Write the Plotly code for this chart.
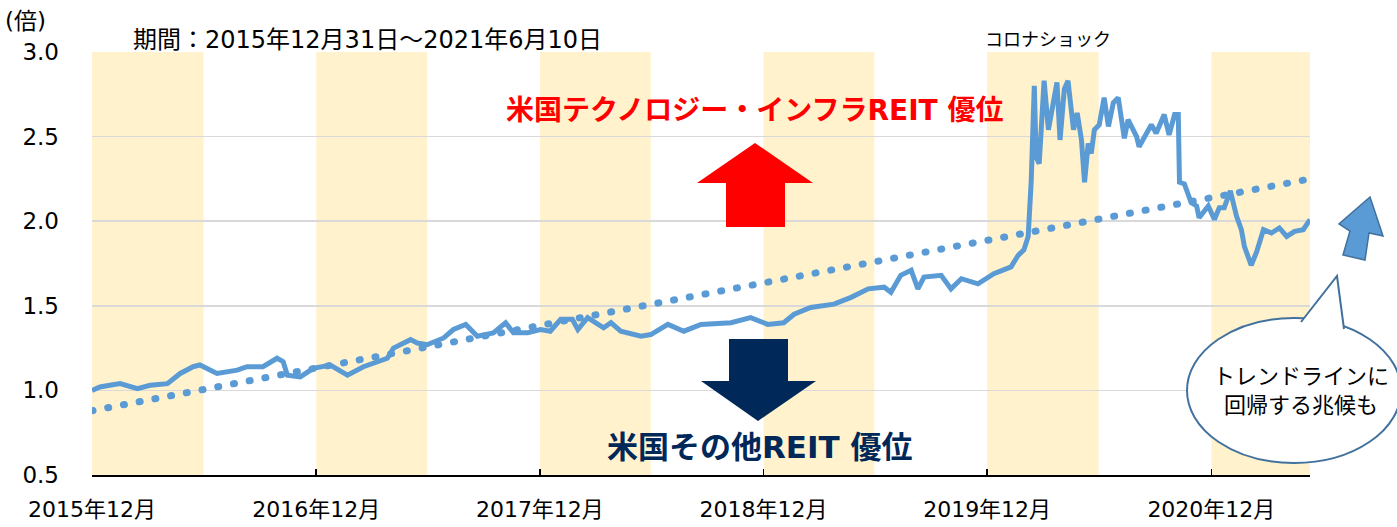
import plotly.graph_objects as go

# ---------------- data ----------------
dates = [
    "2015-12-31", "2016-01-13", "2016-01-29", "2016-02-15", "2016-03-14", "2016-04-04",
    "2016-05-02", "2016-05-23", "2016-06-13", "2016-06-24", "2016-07-22", "2016-08-24",
    "2016-09-09", "2016-10-05", "2016-10-28", "2016-11-07", "2016-11-14", "2016-12-05",
    "2016-12-26", "2017-01-23", "2017-02-20", "2017-03-18", "2017-04-26", "2017-05-06",
    "2017-06-03", "2017-06-14", "2017-06-30", "2017-07-27", "2017-08-12", "2017-09-01",
    "2017-09-20", "2017-10-16", "2017-11-05", "2017-11-18", "2017-12-11", "2018-01-01",
    "2018-01-17", "2018-02-03", "2018-02-22", "2018-03-03", "2018-03-19", "2018-04-14",
    "2018-04-26", "2018-05-12", "2018-06-14", "2018-06-30", "2018-07-28", "2018-08-23",
    "2018-09-20", "2018-10-22", "2018-11-08", "2018-12-10", "2019-01-07", "2019-02-02",
    "2019-02-19", "2019-03-18", "2019-04-25", "2019-05-23", "2019-06-20", "2019-07-16",
    "2019-07-27", "2019-08-12", "2019-08-29", "2019-09-09", "2019-09-19", "2019-10-17",
    "2019-11-02", "2019-11-19", "2019-12-16", "2020-01-11", "2020-02-08", "2020-02-20",
    "2020-02-29", "2020-03-07", "2020-03-12", "2020-03-17", "2020-03-20", "2020-03-25",
    "2020-04-02", "2020-04-09", "2020-04-14", "2020-04-23", "2020-04-28", "2020-05-05",
    "2020-05-11", "2020-05-20", "2020-05-26", "2020-06-02", "2020-06-07", "2020-06-13",
    "2020-06-18", "2020-06-23", "2020-07-01", "2020-07-09", "2020-07-16", "2020-07-24",
    "2020-08-01", "2020-08-11", "2020-08-17", "2020-08-31", "2020-09-04", "2020-09-13",
    "2020-09-24", "2020-10-02", "2020-10-15", "2020-10-23", "2020-11-01", "2020-11-07",
    "2020-11-09", "2020-11-17", "2020-11-23", "2020-11-28", "2020-12-07", "2020-12-11",
    "2020-12-26", "2021-01-05", "2021-01-13", "2021-01-21", "2021-01-31", "2021-02-10",
    "2021-02-18", "2021-02-23", "2021-03-06", "2021-03-15", "2021-03-26", "2021-04-08",
    "2021-04-21", "2021-05-03", "2021-05-16", "2021-05-30", "2021-06-10",
]
ratio = [
    1.00, 1.02, 1.03, 1.04, 1.01, 1.03,
    1.04, 1.10, 1.14, 1.15, 1.10, 1.12,
    1.14, 1.14, 1.19, 1.17, 1.09, 1.08,
    1.13, 1.15, 1.09, 1.14, 1.19, 1.25,
    1.30, 1.28, 1.27, 1.31, 1.36, 1.39,
    1.32, 1.34, 1.40, 1.34, 1.34, 1.36,
    1.35, 1.42, 1.42, 1.36, 1.43, 1.37,
    1.40, 1.35, 1.32, 1.33, 1.39, 1.35,
    1.39, 1.40, 1.40, 1.43, 1.39, 1.40,
    1.45, 1.49, 1.51, 1.55, 1.60, 1.61,
    1.58, 1.68, 1.71, 1.60, 1.67, 1.68,
    1.60, 1.66, 1.63, 1.69, 1.73, 1.80,
    1.83, 1.91, 2.24, 2.80, 2.38, 2.34,
    2.83, 2.54, 2.64, 2.82, 2.48, 2.78,
    2.83, 2.54, 2.64, 2.48, 2.23, 2.46,
    2.40, 2.54, 2.57, 2.73, 2.56, 2.70,
    2.73, 2.49, 2.60, 2.50, 2.44, 2.50,
    2.57, 2.52, 2.63, 2.51, 2.63, 2.63,
    2.23, 2.22, 2.17, 2.11, 2.09, 2.02,
    2.09, 2.01, 2.08, 2.08, 2.18, 2.03,
    1.95, 1.85, 1.74, 1.82, 1.95, 1.93,
    1.96, 1.91, 1.94, 1.95, 2.01,
]

trend_dates = ["2015-12-31", "2021-06-10"]
trend_values = [0.88, 2.25]

band_starts = ["2015-12-31", "2016-12-31", "2017-12-31", "2018-12-31", "2019-12-31", "2020-12-31"]
band_ends = ["2016-06-30", "2017-06-30", "2018-06-30", "2019-06-30", "2020-06-30", "2021-06-10"]

tick_dates = ["2015-12-31", "2016-12-31", "2017-12-31", "2018-12-31", "2019-12-31", "2020-12-31"]
tick_labels = ["2015年12月", "2016年12月", "2017年12月", "2018年12月", "2019年12月", "2020年12月"]

# ---------------- layout helpers ----------------
W_FIG, H_FIG = 1397, 527
L, R, T, B = 92, 1310, 52, 475
FONT = "DejaVu Sans, Noto Sans CJK JP, sans-serif"


def px(x):
    return (x - L) / (R - L)


def py(y):
    return (B - y) / (B - T)


def poly(points, close=True):
    s = "M " + " L ".join(f"{px(x):.5f},{py(y):.5f}" for x, y in points)
    return s + (" Z" if close else "")


fig = go.Figure()

fig.add_trace(go.Scatter(
    x=trend_dates, y=trend_values, mode="lines",
    line=dict(color="#5B9BD5", width=7, dash="1px,15px"),
    hoverinfo="skip", showlegend=False,
))
fig.add_trace(go.Scatter(
    x=dates, y=ratio, mode="lines",
    line=dict(color="#5B9BD5", width=5),
    hoverinfo="skip", showlegend=False,
))

shapes = []
for s, e in zip(band_starts, band_ends):
    shapes.append(dict(type="rect", xref="x", yref="paper", x0=s, x1=e, y0=0, y1=1,
                       fillcolor="#FFF2CC", line=dict(width=0), layer="between"))

# red up arrow
shapes.append(dict(type="path", xref="paper", yref="paper",
                   path=poly([(755, 143), (813, 183), (785, 183), (785, 227),
                              (726, 227), (726, 183), (697, 183)]),
                   fillcolor="#FF0000", line=dict(width=0), layer="above"))
# navy down arrow
shapes.append(dict(type="path", xref="paper", yref="paper",
                   path=poly([(729, 339), (788, 339), (788, 381), (816, 381),
                              (758, 421), (701, 381), (729, 381)]),
                   fillcolor="#002858", line=dict(width=0), layer="above"))
# blue tilted arrow
shapes.append(dict(type="path", xref="paper", yref="paper",
                   path=poly([(1370, 197), (1383, 236), (1369, 233), (1365, 260),
                              (1343, 255), (1350, 231), (1339, 224)]),
                   fillcolor="#5B9BD5", line=dict(color="#41719C", width=1.5), layer="above"))
# callout ellipse
shapes.append(dict(type="circle", xref="paper", yref="paper",
                   x0=px(1187), x1=px(1401), y0=py(463), y1=py(318),
                   fillcolor="white", line=dict(color="#41719C", width=2), layer="above"))
# callout pointer
shapes.append(dict(type="path", xref="paper", yref="paper",
                   path=poly([(1301, 322), (1337, 276), (1344, 329)], close=False),
                   fillcolor="white", line=dict(color="#41719C", width=2), layer="above"))

annotations = [
    dict(text="(倍)", x=px(3), y=py(21), xanchor="left", yanchor="middle",
         font=dict(size=23, color="#000000")),
    dict(text="期間：2015年12月31日～2021年6月10日", x=px(131), y=py(40),
         xanchor="left", yanchor="middle", font=dict(size=24, color="#000000")),
    dict(text="コロナショック", x=px(983), y=py(40), xanchor="left", yanchor="middle",
         font=dict(size=18, color="#000000")),
    dict(text="<b>米国テクノロジー・インフラREIT 優位</b>", x=px(754), y=py(110),
         xanchor="center", yanchor="middle", font=dict(size=28, color="#FF0000")),
    dict(text="<b>米国その他REIT 優位</b>", x=px(760), y=py(447),
         xanchor="center", yanchor="middle", font=dict(size=31, color="#002858")),
    dict(text="トレンドラインに<br>回帰する兆候も", x=px(1301), y=py(391),
         xanchor="center", yanchor="middle", font=dict(size=22, color="#000000")),
]
for a in annotations:
    a.update(xref="paper", yref="paper", showarrow=False)

fig.update_layout(
    template="none",
    width=W_FIG, height=H_FIG, autosize=False,
    margin=dict(l=L, r=W_FIG - R, t=T, b=H_FIG - B, pad=0, autoexpand=False),
    paper_bgcolor="white", plot_bgcolor="white",
    font=dict(family=FONT, color="#000000"),
    shapes=shapes, annotations=annotations,
    showlegend=False,
    xaxis=dict(
        type="date", range=["2015-12-31", "2021-06-10"], automargin=False,
        tickmode="array", tickvals=tick_dates, ticktext=tick_labels,
        ticks="inside", ticklen=6, tickwidth=1.5, tickcolor="#000000",
        showline=True, linecolor="#000000", linewidth=1.5,
        showgrid=False, zeroline=False,
        tickfont=dict(size=22, color="#000000"), ticklabelstandoff=14,
    ),
    yaxis=dict(
        range=[0.5, 3.0], tickmode="array", tickvals=[0.5, 1.0, 1.5, 2.0, 2.5, 3.0],
        automargin=False,
        tickformat=".1f", showgrid=True, gridcolor="#D9D9D9", gridwidth=1.5,
        showline=False, zeroline=False, ticks="",
        tickfont=dict(size=23, color="#000000"), ticklabelstandoff=32,
    ),
)

fig.write_html(
    "out.html",
    config={"displayModeBar": False, "staticPlot": True},
    post_script=(
        "document.body.style.margin='0';document.body.style.overflow='hidden';"
        "var tr=document.querySelectorAll('.scatterlayer .trace');"
        "if(tr.length){tr[0].querySelectorAll('path').forEach(function(p){"
        "p.style.strokeLinecap='round';});}"
    ),
)
